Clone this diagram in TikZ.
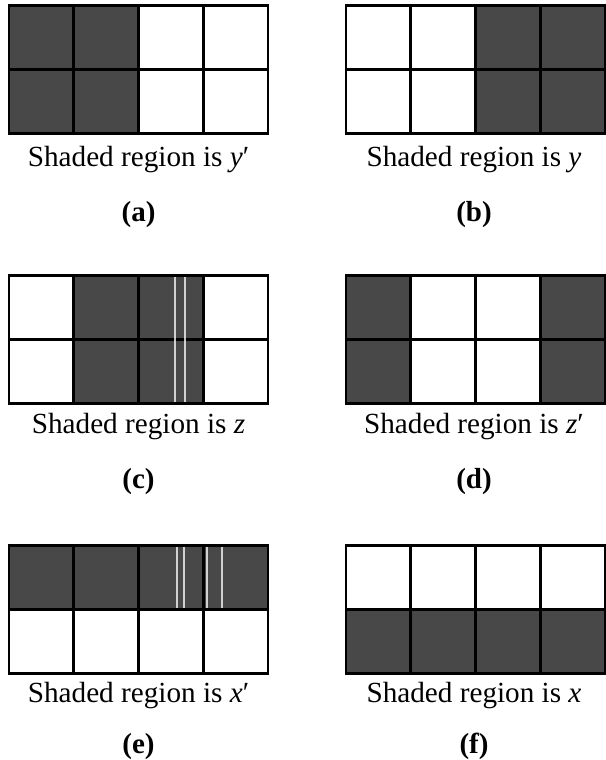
\documentclass[tikz,border=0pt]{standalone}
\usepackage{fontspec}
\setmainfont{Liberation Serif}
\definecolor{shadegray}{RGB}{72,72,72}
\tikzset{
  shadecell/.style={fill=shadegray},
  gridline/.style={line width=2.7pt, line cap=rect},
  caption/.style={font=\fontsize{29.2}{33}\selectfont, anchor=base, inner sep=0pt},
  tag/.style={font=\fontsize{29}{33}\selectfont\bfseries, anchor=base, inner sep=0pt},
  streak/.style={draw=white, line width=1.3pt, opacity=0.75}
}
\newcommand\kmapgrid[3]{%
  \foreach \c/\r in {#3}
    \fill[shadecell] ({#1+\c*64.75},{#2+\r*64}) rectangle ++(64.75,64);
  \draw[gridline] (#1,#2) rectangle ++(259,128);
  \foreach \i in {1,2,3}
    \draw[gridline] ({#1+\i*64.75},#2) -- ++(0,128);
  \draw[gridline] (#1,{#2+64}) -- ++(259,0);
}
\begin{document}
\begin{tikzpicture}[x=1pt,y=-1pt]
\useasboundingbox (0,0) rectangle (605,760);
% (a)
\kmapgrid{9}{5.5}{0/0,1/0,0/1,1/1}
\node[caption] (capa) at (138.5,166) {Shaded region is \textit{y}′};
\node[tag] (taga) at (138.5,221) {(a)};
% (b)
\kmapgrid{346}{5.5}{2/0,3/0,2/1,3/1}
\node[caption] (capb) at (474,166) {Shaded region is \textit{y}};
\node[tag] (tagb) at (474,221) {(b)};
% (c)
\kmapgrid{9}{275.5}{1/0,2/0,1/1,2/1}
\draw[streak] (175,277) -- (175,402);
\draw[streak] (185,277) -- (185,402);
\node[caption] (capc) at (138.5,433) {Shaded region is \textit{z}};
\node[tag] (tagc) at (138.5,488) {(c)};
% (d)
\kmapgrid{346}{275.5}{0/0,3/0,0/1,3/1}
\node[caption] (capd) at (474,433) {Shaded region is \textit{z}′};
\node[tag] (tagd) at (474,488) {(d)};
% (e)
\kmapgrid{9}{545.5}{0/0,1/0,2/0,3/0}
\draw[streak] (177,547) -- (177,608);
\draw[streak] (184,547) -- (184,608);
\draw[streak] (207,547) -- (207,608);
\draw[streak] (222,547) -- (222,608);
\node[caption] (cape) at (138.5,702) {Shaded region is \textit{x}′};
\node[tag] (tage) at (138.5,753) {(e)};
% (f)
\kmapgrid{346}{545.5}{0/1,1/1,2/1,3/1}
\node[caption] (capf) at (474,702) {Shaded region is \textit{x}};
\node[tag] (tagf) at (474,753) {(f)};
\end{tikzpicture}
\end{document}
